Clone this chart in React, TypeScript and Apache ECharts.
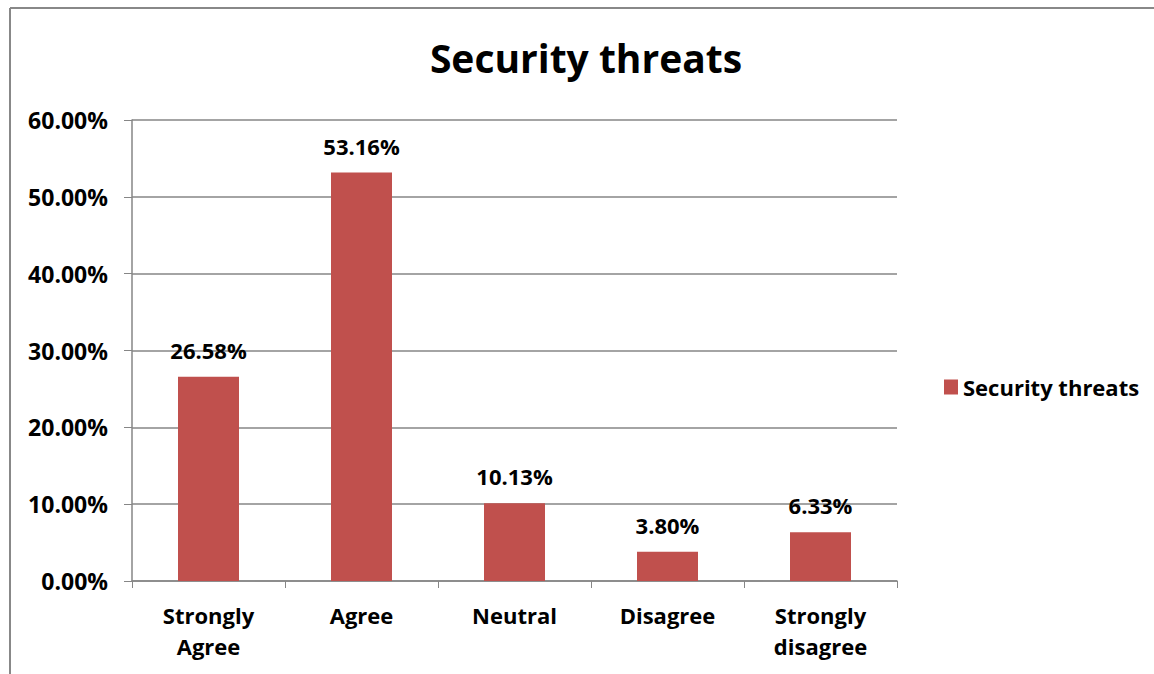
import React, { useEffect, useRef } from "react";
import * as echarts from "echarts";

const categories = ["Strongly\nAgree", "Agree", "Neutral", "Disagree", "Strongly\ndisagree"];
const values = [26.58, 53.16, 10.13, 3.8, 6.33];
const seriesName = "Security threats";
const titleText = "Security threats";

const FONT = "'Open Sans', sans-serif";

export default function App() {
  const ref = useRef<HTMLDivElement>(null);
  useEffect(() => {
    document.body.style.margin = "0";
    const chart = echarts.init(ref.current!, null, { renderer: "svg" });
    chart.setOption({
      animation: false,
      backgroundColor: "#ffffff",
      title: {
        text: titleText,
        left: 581,
        top: 33,
        textAlign: "center",
        textStyle: { fontFamily: FONT, fontWeight: "bold", fontSize: 39, color: "#000" },
      },
      legend: {
        data: [seriesName],
        left: 939,
        top: 371,
        orient: "vertical",
        itemWidth: 14,
        itemHeight: 15,
        itemGap: 6,
        icon: "rect",
        textStyle: { fontFamily: FONT, fontWeight: "bold", fontSize: 22, color: "#000" },
      },
      grid: { left: 132, top: 120, width: 765, height: 461, containLabel: false },
      xAxis: {
        type: "category",
        data: categories,
        axisLine: { lineStyle: { color: "#868686", width: 1.5 } },
        axisTick: { show: true, length: 7, inside: false, lineStyle: { color: "#868686" } },
        axisLabel: {
          fontFamily: FONT,
          fontWeight: "bold",
          fontSize: 22,
          color: "#000",
          lineHeight: 31,
          margin: 18,
          interval: 0,
        },
      },
      yAxis: {
        type: "value",
        min: 0,
        max: 60,
        interval: 10,
        axisLine: { show: true, lineStyle: { color: "#868686", width: 1.5 } },
        axisTick: { show: true, length: 8, lineStyle: { color: "#868686" } },
        splitLine: { lineStyle: { color: "#868686", width: 1.5 } },
        axisLabel: {
          fontFamily: FONT,
          fontWeight: "bold",
          fontSize: 23,
          color: "#000",
          margin: 24,
          formatter: (v: number) => v.toFixed(2) + "%",
        },
      },
      series: [
        {
          name: seriesName,
          type: "bar",
          data: values,
          barWidth: 61,
          itemStyle: { color: "#C0504D" },
          label: {
            show: true,
            position: "top",
            distance: 16,
            fontFamily: FONT,
            fontWeight: "bold",
            fontSize: 22,
            color: "#000",
            formatter: (p: any) => Number(p.value).toFixed(2) + "%",
          },
        },
      ],
      graphic: [
        { type: "line", shape: { x1: 10, y1: 8, x2: 1154, y2: 8 }, style: { stroke: "#888", lineWidth: 2 } },
        { type: "line", shape: { x1: 10, y1: 8, x2: 10, y2: 674 }, style: { stroke: "#888", lineWidth: 2 } },
      ],
    });
    return () => chart.dispose();
  }, []);
  return <div ref={ref} style={{ width: 1154, height: 674, position: "absolute", left: 0, top: 0 }} />;
}
